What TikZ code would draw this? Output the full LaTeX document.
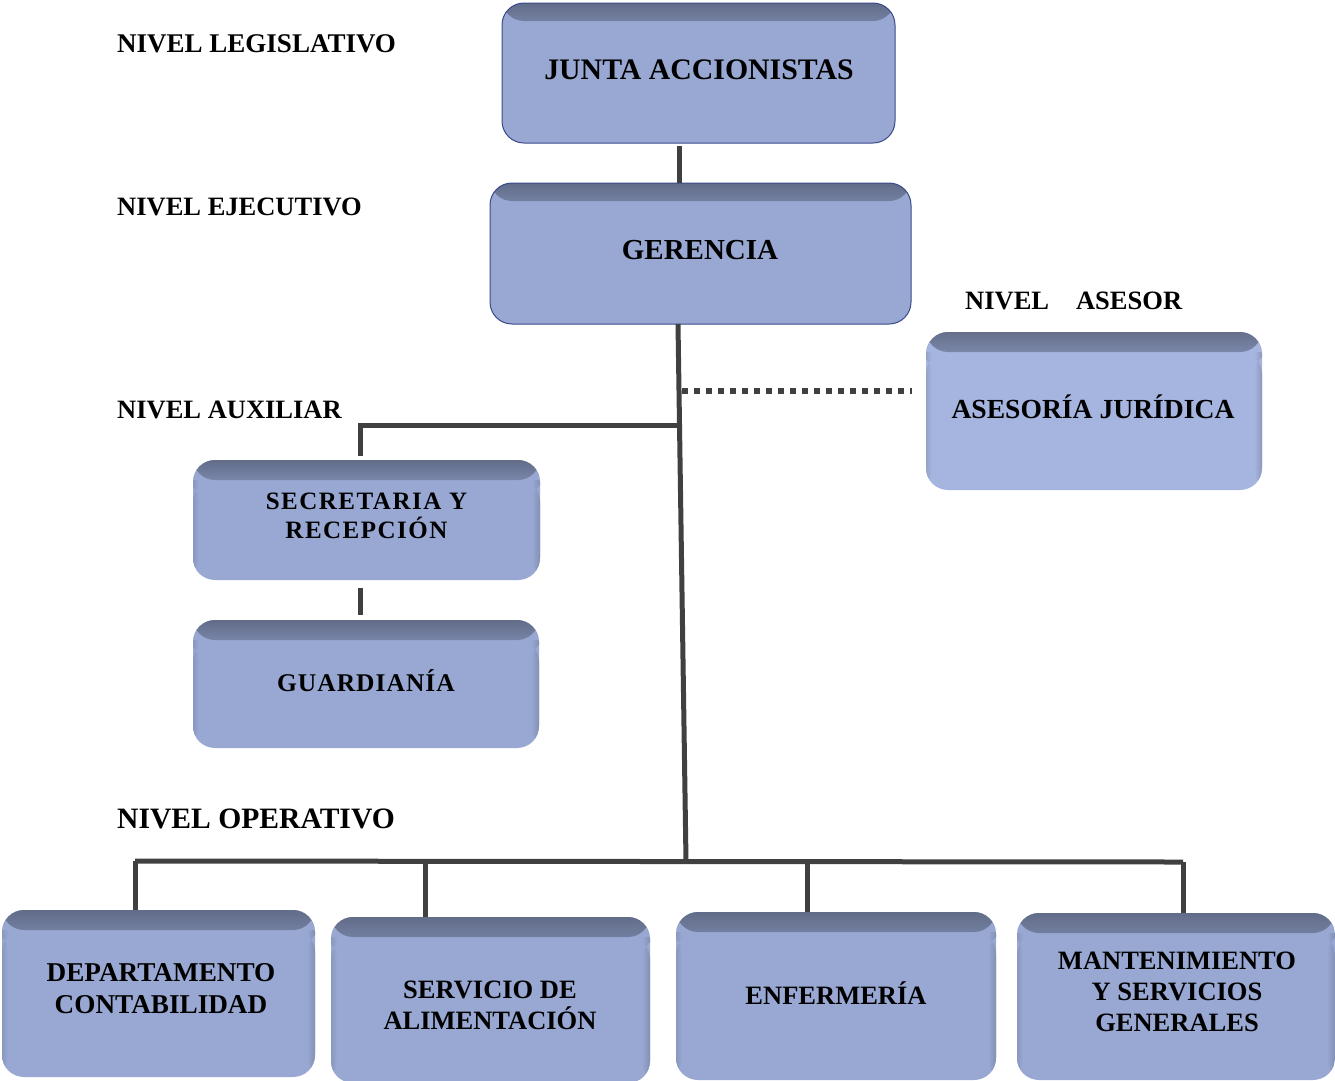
\documentclass[tikz,border=0pt]{standalone}
\usepackage{fontspec}
\setmainfont{Liberation Serif}
\usetikzlibrary{positioning,calc}
\definecolor{boxblue}{HTML}{98A8D2}
\definecolor{boxlight}{HTML}{A6B5E0}
\definecolor{shadowc}{HTML}{4F5870}
\definecolor{edgec}{HTML}{3A4A8A}
\definecolor{linec}{HTML}{404040}
\pgfdeclareverticalshading{topshA}{100bp}{color(0bp)=(boxblue); color(25bp)=(boxblue); color(50bp)=(boxblue!88!shadowc); color(65bp)=(boxblue!65!shadowc); color(75bp)=(boxblue!25!shadowc); color(100bp)=(boxblue!25!shadowc)}
\pgfdeclareverticalshading{topshB}{100bp}{color(0bp)=(boxlight); color(25bp)=(boxlight); color(50bp)=(boxlight!88!shadowc); color(65bp)=(boxlight!65!shadowc); color(75bp)=(boxlight!25!shadowc); color(100bp)=(boxlight!25!shadowc)}
\pgfdeclarehorizontalshading{rshA}{100bp}{color(0bp)=(boxblue); color(25bp)=(boxblue); color(75bp)=(boxblue!70!shadowc); color(100bp)=(boxblue!70!shadowc)}
\pgfdeclarehorizontalshading{rshB}{100bp}{color(0bp)=(boxlight); color(25bp)=(boxlight); color(75bp)=(boxlight!70!shadowc); color(100bp)=(boxlight!70!shadowc)}
\pgfdeclarehorizontalshading{lshA}{100bp}{color(0bp)=(boxblue!80!shadowc); color(25bp)=(boxblue!80!shadowc); color(75bp)=(boxblue); color(100bp)=(boxblue)}
\pgfdeclarehorizontalshading{lshB}{100bp}{color(0bp)=(boxlight!80!shadowc); color(25bp)=(boxlight!80!shadowc); color(75bp)=(boxlight); color(100bp)=(boxlight)}
\tikzset{
  orgbox/.style 2 args={rounded corners=22pt, fill=#1, inner sep=0pt,
    path picture={
      \shade[shading=topsh#2]
        (path picture bounding box.north west) rectangle
        ([yshift=-20pt]path picture bounding box.north east);
      \shade[shading=rsh#2]
        ([xshift=-8pt,yshift=-20pt]path picture bounding box.north east) rectangle
        (path picture bounding box.south east);
      \shade[shading=lsh#2]
        ([yshift=-20pt]path picture bounding box.north west) rectangle
        ([xshift=6pt]path picture bounding box.south west);
    }},
  bluebox/.style={orgbox={boxblue}{A}},
  lightbox/.style={orgbox={boxlight}{B}},
  topbox/.style={rounded corners=22pt, fill=boxblue, draw=edgec, line width=1pt, inner sep=0pt,
    path picture={
      \shade[shading=topshA]
        (path picture bounding box.north west) rectangle
        ([yshift=-18pt]path picture bounding box.north east);
    }},
  txt/.style={inner sep=0pt, align=center, font=\bfseries\fontsize{26.5}{31}\selectfont},
  lvl/.style={anchor=base west, inner sep=0pt, font=\bfseries\fontsize{26.5}{30}\selectfont},
  conn/.style={draw=linec, line width=5pt},
  dotconn/.style={draw=linec, line width=6pt, dash pattern=on 6pt off 6pt}
}
\begin{document}
\begin{tikzpicture}[x=1pt,y=-1pt]
\useasboundingbox (0,0) rectangle (1335,1080);

% level labels
\node[lvl, font=\bfseries\fontsize{27}{30}\selectfont] (lleg) at (117,52) {NIVEL LEGISLATIVO};
\node[lvl] (leje) at (117,215) {NIVEL EJECUTIVO};
\node[lvl] (laux) at (117,418) {NIVEL AUXILIAR};
\node[lvl, font=\bfseries\fontsize{29.6}{32}\selectfont] (lope) at (117,828) {NIVEL OPERATIVO};
\node[lvl] (lase) at (965,309) {NIVEL\hspace{27pt}ASESOR};

% boxes
\node[topbox, minimum width=393pt, minimum height=140pt] (junta) at (698.5,73) {};
\node[topbox, minimum width=421pt, minimum height=141pt] (ger) at (700.5,253.5) {};
\node[lightbox, minimum width=336pt, minimum height=158pt] (ase) at (1094,411) {};
\node[bluebox, minimum width=347pt, minimum height=120pt] (sec) at (366.5,520) {};
\node[bluebox, minimum width=346pt, minimum height=128pt] (gua) at (366,684) {};
\node[bluebox, minimum width=313pt, minimum height=167pt] (dep) at (158.5,993.5) {};
\node[bluebox, minimum width=319pt, minimum height=166pt] (ser) at (490.5,1000) {};
\node[bluebox, minimum width=320pt, minimum height=168pt] (enf) at (836,996) {};
\node[bluebox, minimum width=318pt, minimum height=167pt] (man) at (1176,996.5) {};

% box texts
\node[txt, font=\bfseries\fontsize{29.8}{33}\selectfont] (tjunta) at (699,70) {JUNTA ACCIONISTAS};
\node[txt, font=\bfseries\fontsize{29}{33}\selectfont] (tger) at (700,250) {GERENCIA};
\node[txt, font=\bfseries\fontsize{27.6}{31}\selectfont] (tase) at (1093,407) {ASESORÍA JURÍDICA};
\node[txt, font=\bfseries\fontsize{25}{29}\selectfont\addfontfeature{LetterSpace=6}] (tsec) at (366.5,516) {SECRETARIA Y\\RECEPCIÓN};
\node[txt, font=\bfseries\fontsize{25.5}{29}\selectfont\addfontfeature{LetterSpace=4}] (tgua) at (366,681) {GUARDIANÍA};
\node[txt, font=\bfseries\fontsize{27.2}{32}\selectfont] (tdep) at (161,989) {DEPARTAMENTO\\CONTABILIDAD};
\node[txt] (tser) at (490,1005) {SERVICIO DE\\ALIMENTACIÓN};
\node[txt] (tenf) at (836,993) {ENFERMERÍA};
\node[txt] (tman) at (1177,992) {MANTENIMIENTO\\Y SERVICIOS\\GENERALES};

% junction coordinates
\coordinate (gtop) at (678,324);
\coordinate (gbot) at (686,861);
\coordinate (auxj) at (679.5,425);
\coordinate (auxl) at (360,425);
\coordinate (dotj) at (682,391);
\coordinate (dote) at (912,391);
\coordinate (opl) at (135,861);
\coordinate (opr) at (1183,862);
\coordinate (secb) at (360,588);
\coordinate (guat) at (360,615);

% connectors
\draw[conn] (679,146) -- (ger.north -| 679,0);
\draw[conn] (gtop) -- (gbot);
\draw[conn] (auxj) -- (auxl) -- (360,456);
\draw[conn] (secb) -- (guat);
\draw[dotconn] (dotj) -- (dote);
\draw[conn] (opl) -- (opr);
\draw[conn] (opl) -- (dep.north -| opl);
\draw[conn] (425,861) -- (ser.north -| 425,0);
\draw[conn] (807,861) -- (enf.north -| 807,0);
\draw[conn] (opr) -- (man.north -| opr);
\end{tikzpicture}
\end{document}
